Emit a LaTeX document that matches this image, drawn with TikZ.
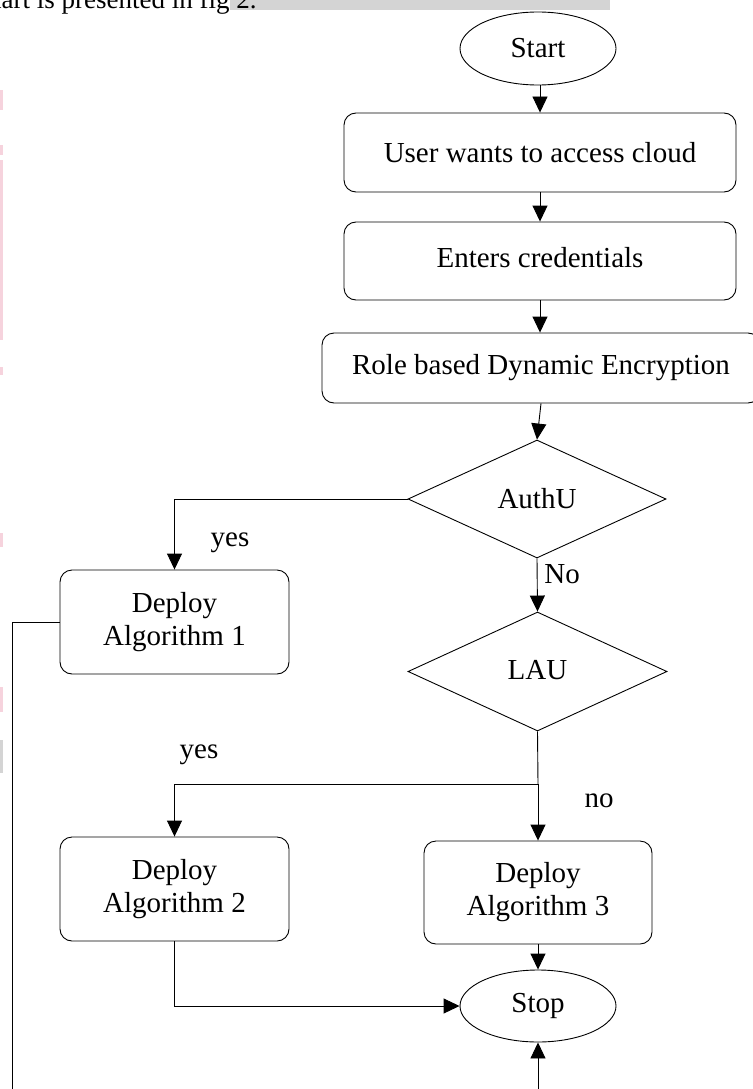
\documentclass[tikz,border=0pt]{standalone}
\usepackage{fontspec}
\setmainfont{Liberation Serif}
\usetikzlibrary{shapes.geometric,arrows.meta}
\definecolor{pinkmark}{HTML}{F6D3DD}
\definecolor{barcol}{HTML}{D4D4D4}
\begin{document}
\begin{tikzpicture}[x=1pt,y=-1pt,
  font=\fontsize{29}{33}\selectfont,
  every path/.style={line width=0.9pt},
  arr/.style={draw=black,-{Triangle[length=16pt,width=15pt]}},
  plain/.style={draw=black},
  rbox/.style={draw=black,rounded corners=12pt,inner sep=0pt,align=center},
  term/.style={draw=black,ellipse,inner sep=0pt,minimum width=156pt,minimum height=73pt},
  decision/.style={draw=black,diamond,inner sep=0pt},
  lbl/.style={inner sep=0pt,anchor=base}
]
\useasboundingbox (0,0) rectangle (752,1089);
% page artefacts
\fill[barcol] (230,0) rectangle (610,10);
\fill[pinkmark] (0,90) rectangle (3,110);
\fill[pinkmark] (0,145) rectangle (3,155);
\fill[pinkmark] (0,160) rectangle (3,340);
\fill[pinkmark] (0,367) rectangle (3,375);
\fill[pinkmark] (0,533) rectangle (3,547);
\fill[pinkmark] (0,687) rectangle (3,712);
\fill[barcol] (0,740) rectangle (3,773);
\node[inner sep=0pt,anchor=base east,font=\fontsize{27}{31}\selectfont] (toptext) at (257,9) {hart is presented in fig 2.};

% nodes
\node[term] (start) at (538,48.5) {Start};
\node[rbox,minimum width=392pt,minimum height=79pt] (box1) at (540,152.5) {User wants to access cloud};
\node[rbox,minimum width=392pt,minimum height=78pt] (box2) at (540,261) {\raisebox{8pt}{Enters credentials}};
\node[rbox,minimum width=438pt,minimum height=70pt] (box3) at (541,368) {\raisebox{5pt}{Role based Dynamic Encryption}};
\node[decision,minimum width=258pt,minimum height=118pt] (authu) at (537,499) {\raisebox{-6pt}{AuthU}};
\node[rbox,minimum width=229pt,minimum height=104pt] (alg1) at (174.5,622) {Deploy\\Algorithm 1};
\node[decision,minimum width=259pt,minimum height=119pt] (lau) at (537.5,671.5) {\raisebox{3pt}{LAU}};
\node[rbox,minimum width=229pt,minimum height=104pt] (alg2) at (174.5,889) {Deploy\\Algorithm 2};
\node[rbox,minimum width=228pt,minimum height=103pt] (alg3) at (538,892.5) {Deploy\\Algorithm 3};
\node[term,minimum height=72pt] (stop) at (538,1006) {Stop};

% helper coordinates
\coordinate (j) at (538,784);
\coordinate (b1) at (12,1100);
\coordinate (b2) at (538,1100);

% connectors
\draw[arr] (start.south -| box1.north) -- (box1.north);
\draw[arr] (box1.south) -- (box2.north);
\draw[arr] (box2.south) -- (box2.south |- box3.north);
\draw[arr] (box3.south) -- (authu.north);
\draw[arr] (authu.west) -| (alg1.north);
\draw[arr] (authu.south) -- (lau.north);
\draw[plain] (lau.south) -- (j);
\draw[arr] (j) -| (alg2.north);
\draw[arr] (j) -- (alg3.north);
\draw[arr] (alg3.south) -- (stop.north);
\draw[arr] (alg2.south) |- (stop.west);
\draw[arr] (alg1.west) -| (b1) -- (b2) -- (stop.south);

% labels
\node[lbl] (yes1) at (230,546) {yes};
\node[lbl,anchor=base west] (no1) at (544,583) {No};
\node[lbl] (yes2) at (199,758) {yes};
\node[lbl] (no2) at (599,807) {no};
\end{tikzpicture}
\end{document}
